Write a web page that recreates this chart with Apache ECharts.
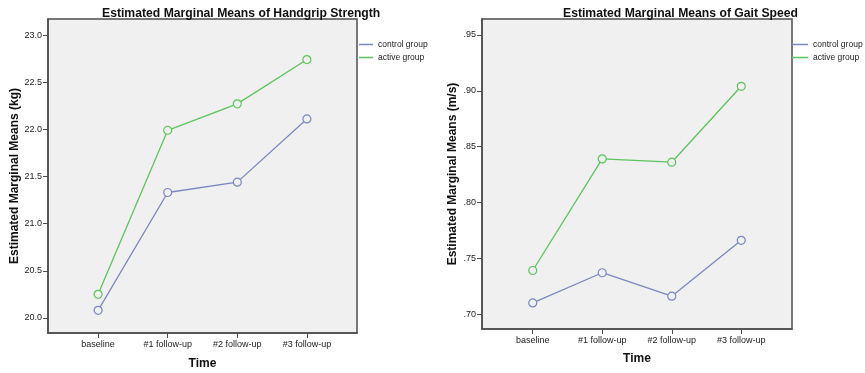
<!DOCTYPE html>
<html>
<head>
<meta charset="utf-8">
<script src="https://cdn.jsdelivr.net/npm/echarts@6/dist/echarts.min.js"></script>
<style>html,body{margin:0;padding:0;background:#fff}#c{width:865px;height:373px}</style>
</head>
<body>
<div id="c"></div>
<script>
var categories = ['baseline', '#1 follow-up', '#2 follow-up', '#3 follow-up'];
var gripControl = [20.08, 21.33, 21.44, 22.11];
var gripActive = [20.25, 21.99, 22.27, 22.74];
var gaitControl = [0.710, 0.737, 0.716, 0.766];
var gaitActive = [0.739, 0.839, 0.836, 0.904];
var gripTicks = [20.0, 20.5, 21.0, 21.5, 22.0, 22.5, 23.0];
var gaitTicks = [0.70, 0.75, 0.80, 0.85, 0.90, 0.95];
var seriesNames = ['control group', 'active group'];

var BLUE = '#7b86c4', GREEN = '#5cc45c', BG = '#f0f0f0', BORDER = '#4d4d4d', FONT = 'Liberation Sans, Arial, sans-serif';
var catIdx = categories.map(function (c, i) { return i; });
function pairs(vals) { return vals.map(function (v, i) { return [catIdx[i], v]; }); }

function xAxis(gi, pad, gap) {
  return {
    type: 'value', gridIndex: gi, min: -pad, max: 3 + pad,
    name: 'Time', nameLocation: 'middle', nameGap: gap,
    nameTextStyle: { fontFamily: FONT, fontWeight: 'bold', fontSize: 12, color: '#111' },
    axisLine: { show: true, onZero: false, lineStyle: { color: BORDER, width: 1.5 } },
    axisTick: { show: true, length: 5, customValues: catIdx, lineStyle: { color: BORDER } },
    axisLabel: { customValues: catIdx, margin: 7, fontFamily: FONT, fontSize: 9, color: '#222',
      formatter: function (v) { return categories[Math.round(v)] || ''; } },
    splitLine: { show: false }
  };
}
function yAxis(gi, mn, mx, ticks, fmt, name, gap) {
  return {
    type: 'value', gridIndex: gi, min: mn, max: mx,
    name: name, nameLocation: 'middle', nameGap: gap, nameRotate: 90,
    nameTextStyle: { fontFamily: FONT, fontWeight: 'bold', fontSize: 12, color: '#111' },
    axisLine: { show: true, onZero: false, lineStyle: { color: BORDER, width: 1.5 } },
    axisTick: { show: true, length: 5, customValues: ticks, lineStyle: { color: BORDER } },
    axisLabel: { customValues: ticks, margin: 6, fontFamily: FONT, fontSize: 9, color: '#222', formatter: fmt },
    splitLine: { show: false }
  };
}
function line(name, gi, vals, color) {
  return {
    type: 'line', name: name, xAxisIndex: gi, yAxisIndex: gi, data: pairs(vals),
    symbol: 'circle', symbolSize: 8, color: color,
    lineStyle: { color: color, width: 1.3 },
    itemStyle: { color: BG, borderColor: color, borderWidth: 1.2 },
    emphasis: { disabled: true }, animation: false
  };
}
function legend(left, w) {
  return {
    orient: 'vertical', left: left, top: 40, itemWidth: w, itemHeight: 1.5, itemGap: 4, icon: 'rect',
    selectedMode: false, padding: 0,
    textStyle: { fontFamily: FONT, fontSize: 8.5, color: '#222' },
    data: [
      { name: seriesNames[0], itemStyle: { color: BLUE, borderWidth: 0 } },
      { name: seriesNames[1], itemStyle: { color: GREEN, borderWidth: 0 } }
    ]
  };
}

var chart = echarts.init(document.getElementById('c'), null, { renderer: 'canvas' });
chart.setOption({
  backgroundColor: '#fff',
  animation: false,
  title: [
    { text: 'Estimated Marginal Means of Handgrip Strength', left: 97, top: 3,
      textStyle: { fontFamily: FONT, fontWeight: 'bold', fontSize: 12.2, color: '#111' } },
    { text: 'Estimated Marginal Means of Gait Speed', left: 558, top: 3,
      textStyle: { fontFamily: FONT, fontWeight: 'bold', fontSize: 12.2, color: '#111' } }
  ],
  legend: [legend(359, 14), legend(792, 16)],
  grid: [
    { left: 48, top: 19, width: 309, height: 314, outerBoundsMode: 'none', containLabel: false,
      show: true, backgroundColor: BG, borderColor: BORDER, borderWidth: 1.5 },
    { left: 482, top: 19, width: 310, height: 310, outerBoundsMode: 'none', containLabel: false,
      show: true, backgroundColor: BG, borderColor: BORDER, borderWidth: 1.5 }
  ],
  xAxis: [xAxis(0, 0.72, 25), xAxis(1, 0.73, 24)],
  yAxis: [
    yAxis(0, 19.84, 23.17, gripTicks, function (v) { return v.toFixed(1); }, 'Estimated Marginal Means (kg)', 27),
    yAxis(1, 0.6866, 0.9643, gaitTicks, function (v) { return v.toFixed(2).replace(/^0/, ''); }, 'Estimated Marginal Means (m/s)', 23)
  ],
  series: [
    line(seriesNames[0], 0, gripControl, BLUE),
    line(seriesNames[1], 0, gripActive, GREEN),
    line(seriesNames[0], 1, gaitControl, BLUE),
    line(seriesNames[1], 1, gaitActive, GREEN)
  ]
});
</script>
</body>
</html>
